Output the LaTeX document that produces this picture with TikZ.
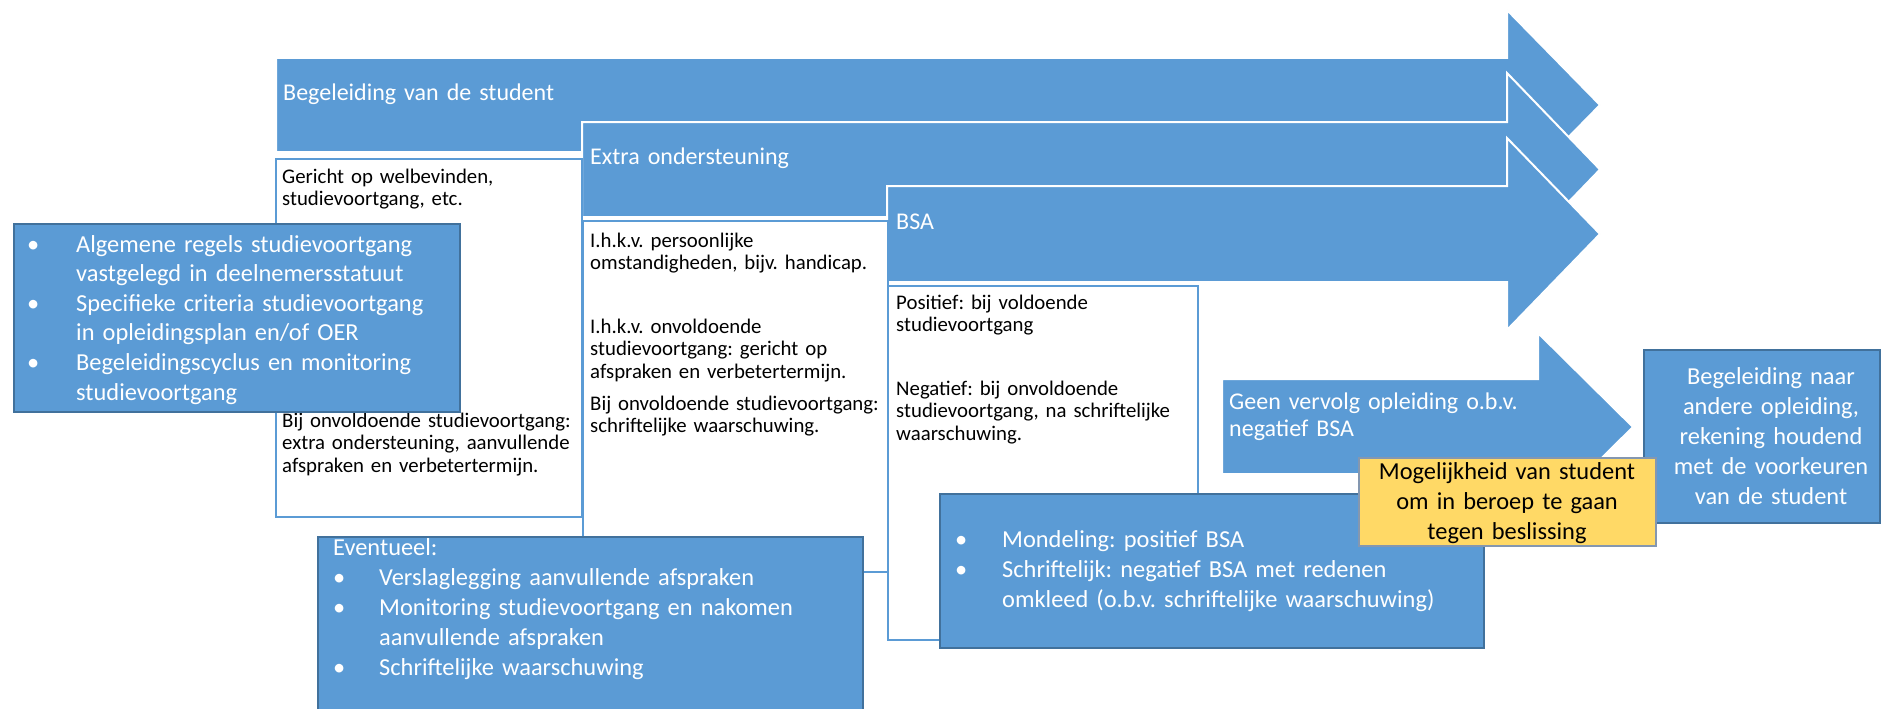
\documentclass[tikz,border=0pt]{standalone}
\usepackage{fontspec}
\setmainfont{Carlito}
\frenchspacing
\definecolor{obl}{HTML}{5B9BD5}
\definecolor{obd}{HTML}{41719C}
\definecolor{oye}{HTML}{FFD966}
\definecolor{oyb}{HTML}{8497B0}
\newcommand\firstitem[2]{\hangindent=#1\hangafter=1\makebox[#1][l]{•}#2\par}
\newcommand\myitem[2]{\noindent\hangindent=#1\hangafter=1\makebox[#1][l]{•}#2\par}
\tikzset{
  arrowshape/.style={fill=obl, draw=white, line width=2pt, line join=miter},
  bluebox/.style={fill=obl, draw=obd, line width=2pt, inner sep=0pt, anchor=north west},
  whitebox/.style={fill=white, draw=obl, line width=1.8pt, inner sep=0pt, anchor=north west},
  yellowbox/.style={fill=oye, draw=oyb, line width=2pt, inner sep=0pt, anchor=north west},
  wtext/.style={text=white, inner sep=0pt, anchor=base west, text width=560pt,
    font=\fontsize{24.4}{29.6}\selectfont\raggedright},
  ltext/.style={text=white, inner sep=0pt, anchor=base west, text width=400pt, align=left,
    font=\fontsize{24}{27}\selectfont},
  btext/.style={text=black, inner sep=0pt, anchor=base west, text width=320pt, align=left,
    font=\fontsize{20.8}{22.7}\selectfont},
  ctext/.style={inner sep=0pt, anchor=base, text width=300pt, align=center,
    font=\fontsize{24.4}{30.2}\selectfont},
}
\begin{document}
\begin{tikzpicture}[x=1pt,y=-1pt]
\useasboundingbox (0,0) rectangle (1881,709);
\fill[white] (0,0) rectangle (1881,709);
% big arrows
\filldraw[arrowshape] (276,58) -- (1507,58) -- (1507,10) -- (1600,105) -- (1507,200) -- (1507,152) -- (276,152) -- cycle;
\filldraw[arrowshape] (582,122) -- (1507,122) -- (1507,73) -- (1600,169.5) -- (1507,266) -- (1507,217) -- (582,217) -- cycle;
\filldraw[arrowshape] (887,186) -- (1507,186) -- (1507,138) -- (1600,234) -- (1507,330) -- (1507,282) -- (887,282) -- cycle;
\node[ltext] (t1) at (283,100) {Begeleiding van de student};
\node[ltext] (t2) at (590,164) {Extra ondersteuning};
\node[ltext] (t3) at (896,229) {BSA};
% white boxes
\node[whitebox, minimum width=306pt, minimum height=358pt] (w1) at (275,158) {};
\node[whitebox, minimum width=305pt, minimum height=351pt] (w2) at (582,220) {};
\node[whitebox, minimum width=310pt, minimum height=354pt] (w3) at (887,285) {};
\node[btext] (w1a) at (282,183) {Gericht op welbevinden,\\studievoortgang, etc.};
\node[btext] (w1b) at (282,427) {Bij onvoldoende studievoortgang:\\extra ondersteuning, aanvullende\\afspraken en verbetertermijn.};
\node[btext] (w2a) at (590,247) {I.h.k.v. persoonlijke\\omstandigheden, bijv. handicap.};
\node[btext] (w2b) at (590,333) {I.h.k.v. onvoldoende\\studievoortgang: gericht op\\afspraken en verbetertermijn.};
\node[btext] (w2c) at (590,410) {Bij onvoldoende studievoortgang:\\schriftelijke waarschuwing.};
\node[btext] (w3a) at (896,309) {Positief: bij voldoende\\studievoortgang};
\node[btext] (w3b) at (896,395) {Negatief: bij onvoldoende\\studievoortgang, na schriftelijke\\waarschuwing.};
% left blue box
\node[bluebox, minimum width=446pt, minimum height=188pt] (lb) at (13,223) {};
\node[wtext] (lbt) at (27,252) {\firstitem{49pt}{Algemene regels studievoortgang\newline vastgelegd in deelnemersstatuut}\myitem{49pt}{Specifieke criteria studievoortgang\newline in opleidingsplan en/of OER}\myitem{49pt}{Begeleidingscyclus en monitoring\newline studievoortgang}};
% Eventueel box
\node[bluebox, minimum width=545pt, minimum height=176pt] (eb) at (317,536) {};
\node[wtext, font=\fontsize{24.4}{30}\selectfont\raggedright] (ebt) at (333,555) {Eventueel:\par\myitem{46pt}{Verslaglegging aanvullende afspraken}\myitem{46pt}{Monitoring studievoortgang en nakomen\newline aanvullende afspraken}\myitem{46pt}{Schriftelijke waarschuwing}};
% Geen vervolg arrow
\filldraw[arrowshape] (1222,379) -- (1538,379) -- (1538,333) -- (1633,427) -- (1538,521) -- (1538,474) -- (1222,474) -- cycle;
\node[ltext] (gv) at (1229,409) {Geen vervolg opleiding o.b.v.\\negatief BSA};
% Mondeling box
\node[bluebox, minimum width=544pt, minimum height=154pt] (mb) at (939,493) {};
\node[wtext, font=\fontsize{24.4}{30}\selectfont\raggedright] (mbt) at (955,547) {\firstitem{47pt}{Mondeling: positief BSA}\myitem{47pt}{Schriftelijk: negatief BSA met redenen\newline omkleed (o.b.v. schriftelijke waarschuwing)}};
% right box
\node[bluebox, minimum width=236pt, minimum height=173pt] (rb) at (1643,349) {};
\node[ctext, text=white] (rbt) at (1771,384) {Begeleiding naar\\andere opleiding,\\rekening houdend\\met de voorkeuren\\van de student};
% yellow box
\node[yellowbox, minimum width=297pt, minimum height=88pt] (yb) at (1358,457) {};
\node[ctext, text=black] (ybt) at (1507,479) {Mogelijkheid van student\\om in beroep te gaan\\tegen beslissing};
\end{tikzpicture}
\end{document}
